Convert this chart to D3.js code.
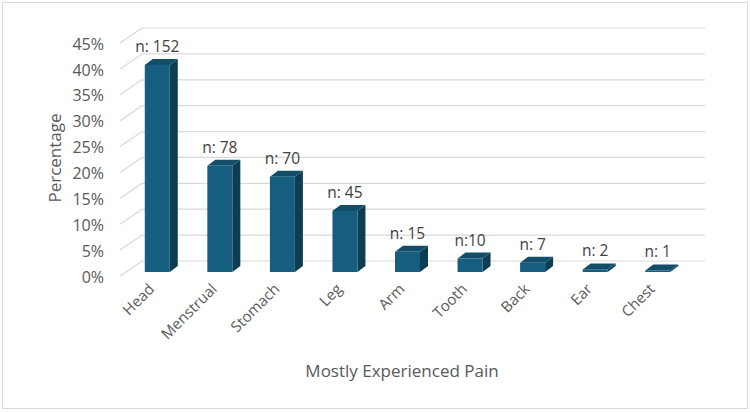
<!DOCTYPE html>
<html>
<head>
<meta charset="utf-8">
<script src="https://cdn.jsdelivr.net/npm/d3@7"></script>
<style>
  body { margin: 0; background: #fff; }
  svg { display: block; font-family: "Open Sans", "Liberation Sans", sans-serif; }
</style>
</head>
<body>
<script>
// data
const categories = ["Head", "Menstrual", "Stomach", "Leg", "Arm", "Tooth", "Back", "Ear", "Chest"]
const percents = [40.0, 20.5, 18.4, 11.8, 3.9, 2.6, 1.8, 0.5, 0.3]
const countLabels = ["n: 152", "n: 78", "n: 70", "n: 45", "n: 15", "n:10", "n: 7", "n: 2", "n: 1"]
const yTicks = [0, 5, 10, 15, 20, 25, 30, 35, 40, 45]

const width = 750
const height = 412

// 3d look: depth of the floor and of the bars
const depthX = 22, depthY = -15
const barW = 25, barDx = 8, barDy = -6
const barOffX = 6, barOffY = -4

const svg = d3.select("body").append("svg")
    .attr("width", width)
    .attr("height", height)

svg.append("rect")
    .attr("x", 2.5).attr("y", 2.5)
    .attr("width", width - 5).attr("height", height - 6)
    .attr("fill", "#fff")
    .attr("stroke", "#d9d9d9")

const x = d3.scaleBand()
    .domain(categories)
    .range([120, 683])

const y = d3.scaleLinear()
    .domain([0, 45])
    .range([276, 43])

// gridlines on the back wall and the side wall
const grid = svg.append("g")
    .attr("stroke", "#d9d9d9")
    .attr("stroke-width", 1.2)
    .attr("fill", "none")
grid.selectAll("line.back")
    .data(yTicks)
    .enter()
    .append("line")
    .attr("x1", 120 + depthX)
    .attr("x2", 683 + depthX)
    .attr("y1", d => y(d) + depthY)
    .attr("y2", d => y(d) + depthY)
grid.selectAll("line.side")
    .data(yTicks)
    .enter()
    .append("line")
    .attr("x1", 120)
    .attr("x2", 120 + depthX)
    .attr("y1", d => y(d))
    .attr("y2", d => y(d) + depthY)

// y axis labels
const yAxis = d3.axisLeft(y)
    .tickValues(yTicks)
    .tickSize(0)
    .tickPadding(0)
    .tickFormat(d => d + "%")
const gy = svg.append("g")
    .attr("transform", "translate(104,1)")
    .call(yAxis)
gy.select(".domain").remove()
gy.selectAll("text")
    .attr("font-size", 16)
    .attr("fill", "#595959")
    .attr("font-family", "Open Sans, Liberation Sans, sans-serif")

// bars
const bars = svg.append("g")
    .selectAll("g")
    .data(categories)
    .enter()
    .append("g")

function barX(c) { return x(c) + x.bandwidth() / 2 - barW / 2 + barOffX }
function barBase() { return y(0) + barOffY }
function barTop(i) { return y(percents[i]) + barOffY }

bars.append("path")
    .attr("fill", "#0e3c51")
    .attr("d", (c, i) => {
        const x0 = barX(c) + barW, t = barTop(i), b = barBase()
        return `M${x0},${t}L${x0 + barDx},${t + barDy}L${x0 + barDx},${b + barDy}L${x0},${b}Z`
    })
bars.append("path")
    .attr("fill", "#134e69")
    .attr("d", (c, i) => {
        const x0 = barX(c), t = barTop(i)
        return `M${x0},${t}L${x0 + barDx},${t + barDy}L${x0 + barW + barDx},${t + barDy}L${x0 + barW},${t}Z`
    })
bars.append("rect")
    .attr("fill", "#165e7f")
    .attr("x", c => barX(c))
    .attr("width", barW)
    .attr("y", (c, i) => barTop(i))
    .attr("height", (c, i) => barBase() - barTop(i))

// count labels
bars.append("text")
    .attr("x", c => barX(c) + barW / 2)
    .attr("y", (c, i) => barTop(i) + barDy - 7)
    .attr("text-anchor", "middle")
    .attr("font-size", 15.5)
    .attr("fill", "#404040")
    .text((c, i) => countLabels[i])

// category labels
svg.append("g")
    .selectAll("text")
    .data(categories)
    .enter()
    .append("text")
    .attr("transform", c => `translate(${x(c) + x.bandwidth() / 2 + 4},290) rotate(-45)`)
    .attr("text-anchor", "end")
    .attr("font-size", 15)
    .attr("fill", "#595959")
    .text(c => c)

// axis titles
svg.append("text")
    .attr("x", 402)
    .attr("y", 377)
    .attr("text-anchor", "middle")
    .attr("font-size", 17)
    .attr("fill", "#595959")
    .text("Mostly Experienced Pain")

svg.append("text")
    .attr("transform", "translate(61,158) rotate(-90)")
    .attr("text-anchor", "middle")
    .attr("font-size", 17)
    .attr("fill", "#595959")
    .text("Percentage")
</script>
</body>
</html>
